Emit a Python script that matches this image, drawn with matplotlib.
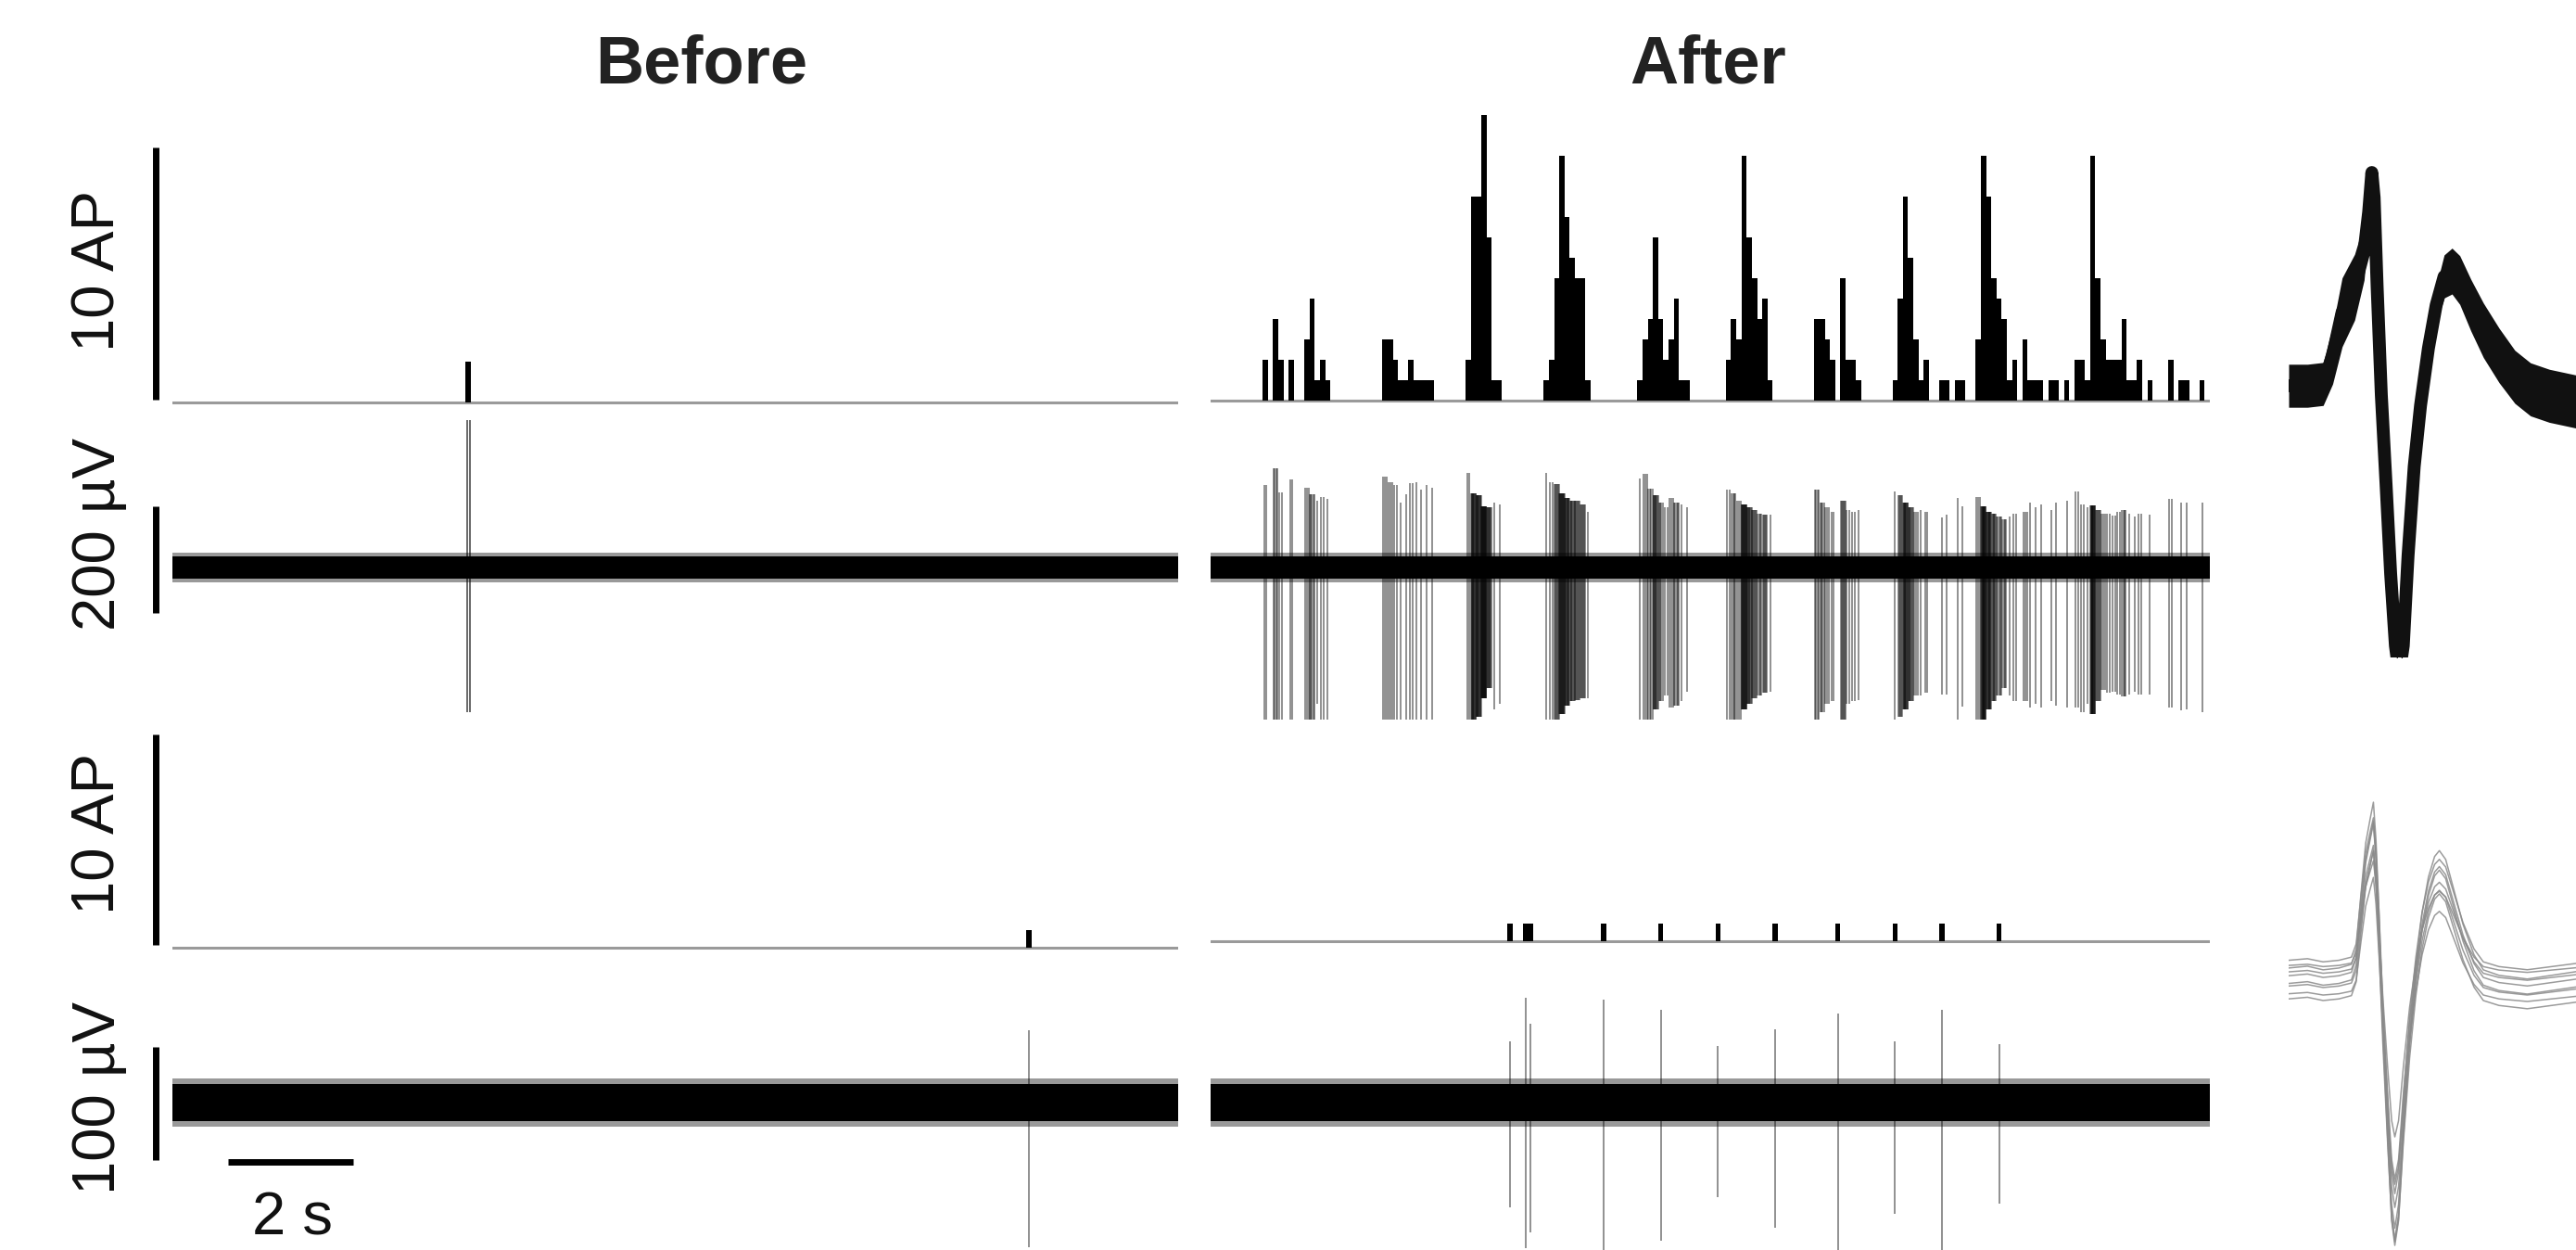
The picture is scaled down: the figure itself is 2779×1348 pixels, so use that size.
import numpy as np
import matplotlib
matplotlib.use("Agg")
import matplotlib.pyplot as plt
from matplotlib.lines import Line2D

W, H, DPI = 2779, 1348, 100
plt.rcParams['font.family'] = ['Liberation Sans', 'DejaVu Sans']

# ---------------- data ----------------
BIN_S = 1.0 / 12.0          # histogram bin width (s)
DURATION_S = 16.0           # length of each recording segment (s)

# Unit 1 (top), "Before": spike-count histogram (bin index, count) and spike amplitudes (uV)
BEFORE_U1_BINS = [56]
BEFORE_U1_COUNTS = [2]
BEFORE_U1_UP = [276]
BEFORE_U1_DOWN = [271]

# Unit 1, "After"
AFTER_U1_BINS = [10, 12, 13, 15, 18, 19, 20, 21, 22,
                 33, 34, 35, 36, 37, 38, 39, 40, 41, 42,
                 49, 50, 51, 52, 53, 54, 55,
                 64, 65, 66, 67, 68, 69, 70, 71, 72,
                 82, 83, 84, 85, 86, 87, 88, 89, 90, 91,
                 99, 100, 101, 102, 103, 104, 105, 106, 107,
                 116, 117, 118, 119, 121, 122, 123, 124,
                 131, 132, 133, 134, 135, 136, 137,
                 140, 141, 143, 144,
                 147, 148, 149, 150, 151, 152, 153, 154,
                 156, 157, 158, 159, 161, 162, 164,
                 166, 167, 168, 169, 170, 171, 172, 173, 174, 175, 176, 177, 178, 180,
                 184, 186, 187, 190]
AFTER_U1_COUNTS = [2, 4, 2, 2, 3, 5, 1, 2, 1,
                   3, 3, 2, 1, 1, 2, 1, 1, 1, 1,
                   2, 10, 10, 14, 8, 1, 1,
                   1, 2, 6, 12, 9, 7, 6, 6, 1,
                   1, 3, 4, 8, 4, 2, 3, 5, 1, 1,
                   2, 4, 3, 12, 8, 6, 4, 5, 1,
                   4, 4, 3, 2, 6, 2, 2, 1,
                   1, 5, 10, 7, 3, 1, 2,
                   1, 1, 1, 1,
                   3, 12, 10, 6, 5, 4, 1, 2,
                   3, 1, 1, 1, 1, 1, 1,
                   2, 2, 1, 12, 6, 3, 2, 2, 2, 4, 1, 1, 2, 1,
                   2, 1, 1, 1]
AFTER_U1_UP = [155, 185, 140, 165, 150, 138, 125, 132, 128,
               170, 160, 155, 122, 138, 158, 160, 145, 155, 150,
               177, 139, 135, 115, 113, 122, 118,
               177, 160, 156, 139, 130, 125, 125, 118, 104,
               167, 175, 148, 135, 122, 113, 130, 122, 118, 113,
               146, 139, 125, 118, 113, 108, 101, 99, 99,
               146, 122, 113, 104, 125, 108, 104, 108,
               142, 135, 122, 113, 104, 108, 104,
               94, 99, 130, 115,
               132, 115, 104, 101, 95, 90, 95, 101,
               104, 122, 113, 118, 108, 122, 125,
               142, 118, 113, 116, 108, 101, 101, 97, 104, 108, 101, 95, 101, 99,
               128, 122, 122, 122]
AFTER_U1_DOWN = [300, 300, 300, 300, 300, 290, 255, 300, 300,
                 300, 300, 300, 300, 300, 300, 300, 300, 300, 300,
                 300, 300, 280, 245, 225, 265, 255,
                 300, 300, 300, 275, 258, 250, 248, 245, 245,
                 300, 300, 285, 265, 250, 240, 262, 258, 250, 232,
                 300, 300, 285, 265, 255, 245, 240, 235, 232,
                 300, 270, 255, 250, 300, 255, 250, 248,
                 285, 280, 265, 250, 240, 240, 235,
                 238, 238, 290, 260,
                 300, 290, 265, 250, 240, 225, 240, 250,
                 250, 262, 255, 262, 250, 258, 262,
                 262, 270, 255, 275, 250, 230, 235, 232, 238, 242, 238, 232, 238, 238,
                 262, 268, 265, 270]

# Unit 2 (bottom)
BEFORE_U2_BINS = [163]
BEFORE_U2_COUNTS = [1]
BEFORE_U2_UP = [64]
BEFORE_U2_DOWN = [128]

AFTER_U2_BINS = [57, 60, 61, 75, 86, 97, 108, 120, 131, 140, 151]
AFTER_U2_COUNTS = [1, 1, 1, 1, 1, 1, 1, 1, 1, 1, 1]
AFTER_U2_UP = [54, 93, 70, 91, 82, 50, 65, 79, 54, 82, 52]
AFTER_U2_DOWN = [93, 129, 115, 135, 122, 84, 111, 135, 98, 135, 89]

# background noise band half-widths (uV): dense core / fuzzy edge
NOISE_U1 = (20, 27)
NOISE_U2 = (16, 21)

# Average spike waveforms (time in ms, amplitude in uV)
WAVE1_T = [0.000, 0.131, 0.240, 0.306, 0.372, 0.459, 0.525, 0.557, 0.579, 0.595,
           0.616, 0.645, 0.678, 0.710, 0.743, 0.769, 0.798, 0.831, 0.874, 0.918,
           0.973, 1.027, 1.082, 1.137, 1.191, 1.268, 1.355, 1.464, 1.574, 1.683,
           1.814, 2.000]
WAVE1_V = [0, 0, 2.5, 42.5, 102.5, 137.5, 187.5, 242.5, 297.5, 262.5,
           137.5, -12.5, -137.5, -262.5, -362.5, -402.5, -362.5, -237.5, -112.5, -27.5,
           52.5, 112.5, 152.5, 160, 147.5, 112.5, 77.5, 42.5, 12.5, -5,
           -14, -22]
WAVE1_SPREAD = [30, 30, 30, 40, 48, 46, 40, 24, 6, 6,
                8, 8, 8, 8, 7, 4, 7, 8, 8, 14,
                20, 26, 30, 32, 34, 36, 38, 38, 37, 37,
                37, 37]

WAVE2_T = [0.000, 0.131, 0.240, 0.350, 0.437, 0.470, 0.503, 0.536, 0.568, 0.590,
           0.608, 0.630, 0.656, 0.689, 0.717, 0.739, 0.765, 0.798, 0.842, 0.885,
           0.929, 0.973, 1.016, 1.049, 1.093, 1.148, 1.213, 1.290, 1.355, 1.464,
           1.661, 2.000]
WAVE2_V = [0, 1.25, -1.25, 0, 2.5, 13, 50, 85, 102, 113,
           87, 35, -35, -110, -167.5, -185, -167.5, -110, -45, 2,
           38, 62, 76, 80, 74, 54, 30, 9, -1.25, -5,
           -7.5, -2.5]
WAVE2_GAINS = [0.72, 0.80, 0.87, 0.93, 0.98, 1.02, 1.06, 1.10, 1.14]
WAVE2_OFFSETS = [10, -12, 5, -6, 14, -16, 2, -4, 8]

# ---------------- layout helpers ----------------
fig = plt.figure(figsize=(W / DPI, H / DPI), dpi=DPI)
fig.patch.set_facecolor('white')


def add_ax(x0, y0, x1, y1):
    ax = fig.add_axes([x0 / W, 1 - y1 / H, (x1 - x0) / W, (y1 - y0) / H])
    ax.set_axis_off()
    return ax


def fig_line(x0, y0, x1, y1, lw=5.0, color='black'):
    fig.add_artist(Line2D([x0 / W, x1 / W], [1 - y0 / H, 1 - y1 / H], lw=lw,
                          color=color, solid_capstyle='butt', transform=fig.transFigure))


def fig_text(x, y, s, **kw):
    fig.text(x / W, 1 - y / H, s, ha='center', va='center', **kw)


def spikes(bins, counts, ups, downs):
    t, u, d = [], [], []
    for b, n, up, dn in zip(bins, counts, ups, downs):
        for i in range(n):
            t.append((b + (i + 0.5) / n) * BIN_S)
            u.append(up)
            d.append(-dn)
    return t, u, d


def draw_hist(ax, bins, counts, unit_px, base_y, top_y, bot_y):
    ax.set_xlim(0, DURATION_S)
    ax.set_ylim(-(bot_y - base_y) / unit_px, (base_y - top_y) / unit_px)
    ax.axhline(0, color='#9a9a9a', lw=2.2, zorder=1)
    ax.bar([b * BIN_S for b in bins], counts, width=BIN_S, align='edge',
           color='black', linewidth=0, zorder=2)


def draw_trace(ax, noise, bins, counts, ups, downs, px_per_uv, center_y, top_y, bot_y,
               alpha=0.55):
    ax.set_xlim(0, DURATION_S)
    ax.set_ylim(-(bot_y - center_y) / px_per_uv, (center_y - top_y) / px_per_uv)
    core, edge = noise
    ax.fill_between([0, DURATION_S], [-edge, -edge], [edge, edge], color='black',
                    alpha=0.4, linewidth=0)
    ax.fill_between([0, DURATION_S], [-core, -core], [core, core], color='black',
                    linewidth=0)
    t, u, d = spikes(bins, counts, ups, downs)
    ax.vlines(t, d, u, colors='black', alpha=alpha, linewidth=1.1)


BX0, BX1 = 186, 1271
AX0, AX1 = 1306, 2384

# Unit 1 histograms (1 AP = 22 px)
draw_hist(add_ax(BX0, 110, BX1, 440), BEFORE_U1_BINS, BEFORE_U1_COUNTS, 22, 434, 110, 440)
draw_hist(add_ax(AX0, 110, AX1, 440), AFTER_U1_BINS, AFTER_U1_COUNTS, 22, 432, 110, 440)

# Unit 1 traces (200 uV = 115 px)
draw_trace(add_ax(BX0, 440, BX1, 776), NOISE_U1, BEFORE_U1_BINS, BEFORE_U1_COUNTS,
           BEFORE_U1_UP, BEFORE_U1_DOWN, 0.576, 612, 440, 776, alpha=0.75)
draw_trace(add_ax(AX0, 440, AX1, 776), NOISE_U1, AFTER_U1_BINS, AFTER_U1_COUNTS,
           AFTER_U1_UP, AFTER_U1_DOWN, 0.576, 612, 440, 776)

# Unit 2 histograms (1 AP = 19.5 px)
draw_hist(add_ax(BX0, 940, BX1, 1030), BEFORE_U2_BINS, BEFORE_U2_COUNTS, 19.5, 1022, 940, 1030)
draw_hist(add_ax(AX0, 940, AX1, 1030), AFTER_U2_BINS, AFTER_U2_COUNTS, 19.5, 1015, 940, 1030)

# Unit 2 traces (100 uV = 122 px)
draw_trace(add_ax(BX0, 1040, BX1, 1348), NOISE_U2, BEFORE_U2_BINS, BEFORE_U2_COUNTS,
           BEFORE_U2_UP, BEFORE_U2_DOWN, 1.22, 1189, 1040, 1348)
draw_trace(add_ax(AX0, 1040, AX1, 1348), NOISE_U2, AFTER_U2_BINS, AFTER_U2_COUNTS,
           AFTER_U2_UP, AFTER_U2_DOWN, 1.22, 1189, 1040, 1348)

# Waveforms
W1_ZERO, W1_K = 416, 0.773
axw1 = add_ax(2469, 150, 2779, 709)
axw1.set_xlim(0, 2.0)
axw1.set_ylim((W1_ZERO - 709) / W1_K, (W1_ZERO - 150) / W1_K)
v1 = np.array(WAVE1_V)
s1 = np.array(WAVE1_SPREAD)
axw1.fill_between(WAVE1_T, v1 - s1, v1 + s1, color='#111111', linewidth=0)
axw1.plot(WAVE1_T, v1, color='#111111', lw=10, solid_joinstyle='round',
          solid_capstyle='butt')

axw2 = add_ax(2469, 840, 2779, 1348)
axw2.set_xlim(0, 2.0)
axw2.set_ylim((1055 - 1348) / 1.388, (1055 - 840) / 1.388)
v2 = np.array(WAVE2_V)
for g, off in zip(WAVE2_GAINS, WAVE2_OFFSETS):
    axw2.plot(WAVE2_T, v2 * g + off, color='#8a8a8a', lw=1.1, alpha=0.85)

# Scale bars
SB_X = 168
fig_line(SB_X, 159, SB_X, 431)
fig_line(SB_X, 546, SB_X, 661)
fig_line(SB_X, 792, SB_X, 1019)
fig_line(SB_X, 1129, SB_X, 1251)
fig_line(246, 1253, 381, 1253)

# Text
TXT = '#111111'
fig_text(757, 71, 'Before', fontsize=52, fontweight='bold', color='#222222')
fig_text(1843, 71, 'After', fontsize=52, fontweight='bold', color='#222222')
fig_text(107, 292, '10 AP', fontsize=47, rotation=90, color=TXT)
fig_text(107, 576, '200 µV', fontsize=47, rotation=90, color=TXT)
fig_text(107, 899, '10 AP', fontsize=47, rotation=90, color=TXT)
fig_text(107, 1184, '100 µV', fontsize=47, rotation=90, color=TXT)
fig_text(315, 1315, '2 s', fontsize=47, color=TXT)

fig.savefig('out.png', dpi=DPI, facecolor='white')
